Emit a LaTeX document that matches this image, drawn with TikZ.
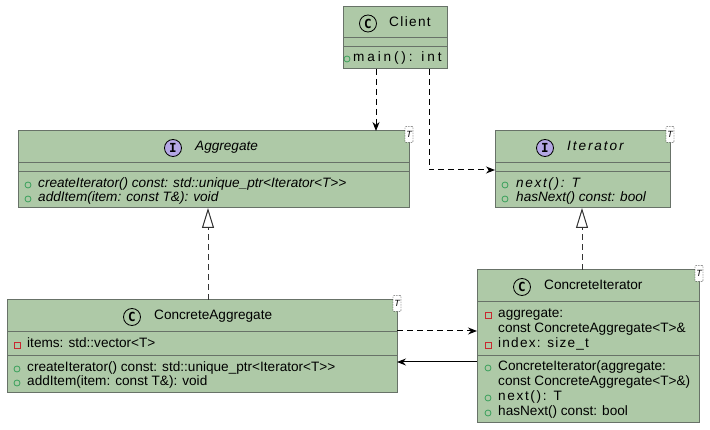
\documentclass[tikz,border=0pt]{standalone}
\usepackage{fontspec}
\setmainfont{Liberation Sans}
\newfontfamily\iconfont{DejaVu Sans Mono}
\usetikzlibrary{arrows.meta}
\definecolor{umlfill}{RGB}{174,201,167}
\definecolor{umlline}{RGB}{104,114,104}
\definecolor{pubgreen}{RGB}{56,160,90}
\definecolor{privred}{RGB}{200,40,48}
\definecolor{ifacepurple}{RGB}{180,167,229}
% letter-spaced text
\newcommand{\lsp}[2]{{\addfontfeature{LetterSpace=#1}#2}}

\begin{document}
\begin{tikzpicture}[x=1pt,y=-1pt,
  font=\fontsize{13.6}{15}\selectfont,
  box/.style={draw=umlline, fill=umlfill, line width=1pt, inner sep=0pt, outer sep=0pt},
  sepline/.style={draw=umlline, line width=1pt},
  member/.style={anchor=mid west, inner sep=0pt},
  title/.style={anchor=mid west, inner sep=0pt},
  icon/.style={circle, draw=black, line width=0.8pt, minimum size=17pt, inner sep=0pt,
    font=\iconfont\fontsize{12.5}{12.5}\selectfont\bfseries},
  pub/.style={circle, draw=pubgreen, line width=0.8pt, minimum size=6pt, inner sep=0pt},
  priv/.style={rectangle, draw=privred, line width=0.8pt, minimum size=6pt, inner sep=0pt},
  tparam/.style={draw=black, dash pattern=on 1.5pt off 1pt, fill=white, rounded corners=1pt,
    minimum width=8pt, minimum height=16pt, inner sep=0pt,
    font=\fontsize{9}{9}\selectfont\itshape},
  dep/.style={draw=black, line width=1pt, dash pattern=on 6pt off 4pt,
    -{Stealth[length=9pt,width=7pt]}},
  real/.style={draw=black!80, line width=1pt, dash pattern=on 6pt off 4pt,
    -{Triangle[length=20pt,width=12pt,fill=white]}},
  assoc/.style={draw=black, line width=1pt, -{Stealth[length=9pt,width=7pt,inset=3pt]}},
]
\useasboundingbox (0,0) rectangle (710,430);

% ---------------- Client ----------------
\node[box, minimum width=104, minimum height=62] (client) at (395,38) {};
\draw[sepline] (client.west |- 0,38) -- (client.east |- 0,38);
\draw[sepline] (client.west |- 0,47) -- (client.east |- 0,47);
\node[icon, fill=umlfill] (clientC) at (368,23.5) {C};
\node[title] (clientN) at (389,23.5) {\lsp{10}{Client}};
\node[pub] (clientM1) at (347,59) {};
\node[member] (clientT1) at (353,59) {\lsp{21}{main(): int}};

% ---------------- Aggregate ----------------
\node[box, minimum width=391, minimum height=77] (agg) at (213.5,169.5) {};
\draw[sepline] (agg.west |- 0,163) -- (agg.east |- 0,163);
\draw[sepline] (agg.west |- 0,172) -- (agg.east |- 0,172);
\node[icon, fill=ifacepurple] (aggI) at (173,148) {I};
\node[title] (aggN) at (195,148) {\itshape Aggregate};
\node[tparam] (aggT) at (409,134.5) {T};
\node[pub] (aggM1) at (28,185) {};
\node[member] (aggT1) at (38,185) {\itshape createIterator() const: std::unique\_ptr<Iterator<T>{}>};
\node[pub] (aggM2) at (28,199) {};
\node[member] (aggT2) at (38,199) {\itshape addItem(item: const T\&): void};

% ---------------- Iterator ----------------
\node[box, minimum width=175, minimum height=77] (iter) at (582.5,169.5) {};
\draw[sepline] (iter.west |- 0,163) -- (iter.east |- 0,163);
\draw[sepline] (iter.west |- 0,172) -- (iter.east |- 0,172);
\node[icon, fill=ifacepurple] (iterI) at (545,148) {I};
\node[title] (iterN) at (567,148) {\itshape\lsp{14}{Iterator}};
\node[tparam] (iterT) at (670,134.5) {T};
\node[pub] (iterM1) at (505,185) {};
\node[member] (iterT1) at (516,185) {\itshape\lsp{12}{next(): T}};
\node[pub] (iterM2) at (505,199) {};
\node[member] (iterT2) at (516,199) {\itshape hasNext() const: bool};

% ---------------- ConcreteAggregate ----------------
\node[box, minimum width=390, minimum height=93] (cagg) at (202,346.5) {};
\draw[sepline] (cagg.west |- 0,332) -- (cagg.east |- 0,332);
\draw[sepline] (cagg.west |- 0,356) -- (cagg.east |- 0,356);
\node[icon, fill=umlfill] (caggC) at (132,317) {C};
\node[title] (caggN) at (154,317) {ConcreteAggregate};
\node[tparam] (caggT) at (397,303.5) {T};
\node[priv] (caggA1) at (17,345) {};
\node[member] (caggTA1) at (27,345) {items: std::vector<T>};
\node[pub] (caggM1) at (17,369) {};
\node[member] (caggT1) at (27,369) {createIterator() const: std::unique\_ptr<Iterator<T>{}>};
\node[pub] (caggM2) at (17,383) {};
\node[member] (caggT2) at (27,383) {addItem(item: const T\&): void};

% ---------------- ConcreteIterator ----------------
\node[box, minimum width=222, minimum height=153] (citer) at (588,346.5) {};
\draw[sepline] (citer.west |- 0,302) -- (citer.east |- 0,302);
\draw[sepline] (citer.west |- 0,356) -- (citer.east |- 0,356);
\node[icon, fill=umlfill] (citerC) at (522,287) {C};
\node[title] (citerN) at (544,287) {ConcreteIterator};
\node[tparam] (citerT) at (699,273.5) {T};
\node[priv] (citerA1) at (488,315) {};
\node[member] (citerTA1) at (498,315) {aggregate:};
\node[member] (citerTA1b) at (498,330) {const ConcreteAggregate<T>\&};
\node[priv] (citerA2) at (488,345) {};
\node[member] (citerTA2) at (498,345) {\lsp{9}{index: size\_t}};
\node[pub] (citerM1) at (488,368) {};
\node[member] (citerT1) at (498,368) {ConcreteIterator(aggregate:};
\node[member] (citerT1b) at (498,383) {const ConcreteAggregate<T>\&)};
\node[pub] (citerM2) at (488,398) {};
\node[member] (citerT2) at (498,398) {\lsp{12}{next(): T}};
\node[pub] (citerM3) at (488,413) {};
\node[member] (citerT3) at (498,413) {hasNext() const: bool};

% ---------------- Relations ----------------
\draw[dep] (client.south -| 376,0) -- (agg.north -| 376,0);
\draw[dep] (client.south -| 429,0) |- (iter.west |- 0,170);
\draw[real] (cagg.north -| 208,0) -- (agg.south -| 208,0);
\draw[real] (citer.north -| 582,0) -- (iter.south -| 582,0);
\draw[dep] (cagg.east |- 0,331) -- (citer.west |- 0,331);
\draw[assoc] (citer.west |- 0,362) -- (cagg.east |- 0,362);
\end{tikzpicture}
\end{document}
